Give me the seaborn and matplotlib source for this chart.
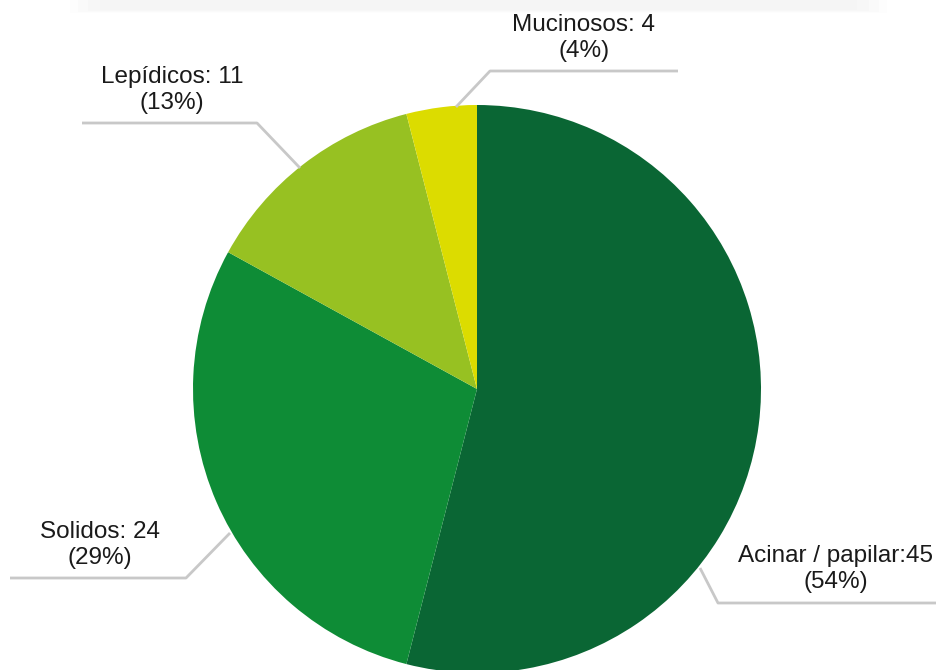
import numpy as np
import matplotlib
matplotlib.use("Agg")
import matplotlib.pyplot as plt
import seaborn as sns
from matplotlib.patches import Rectangle

# ---- data ----
categories = ["Acinar / papilar", "Solidos", "Lepídicos", "Mucinosos"]
counts = [45, 24, 11, 4]
percents = [54, 29, 13, 4]
label_texts = ["Acinar / papilar:45\n(54%)", "Solidos: 24\n(29%)",
               "Lepídicos: 11\n(13%)", "Mucinosos: 4\n(4%)"]
colors = ["#0a6634", "#0e8c36", "#97c122", "#dcdc00"]

sns.set_theme(style="white")
plt.rcParams["font.family"] = ["Liberation Sans", "DejaVu Sans"]

W, H = 937, 670
fig = plt.figure(figsize=(W / 100, H / 100), dpi=100)
ax = fig.add_axes([0, 0, 1, 1])

cx, cy, R = 477, H - 389, 284
ax.pie(percents, colors=colors, startangle=90, counterclock=False,
       center=(cx, cy), radius=R, frame=True,
       wedgeprops=dict(linewidth=0))
ax.set_xlim(0, W)
ax.set_ylim(0, H)
ax.set_aspect("equal")
ax.axis("off")

# leader-line / label layout in pixel positions (y from top)
layout = {
    "Acinar / papilar": dict(anchor=(700, 568), elbow=(718, 603), end=937, text=(836, 569)),
    "Solidos": dict(anchor=(230, 533), elbow=(186, 578), end=10, text=(100, 545)),
    "Lepídicos": dict(anchor=(300, 168), elbow=(257, 123), end=82, text=(172, 90)),
    "Mucinosos": dict(anchor=(456, 107), elbow=(490, 71), end=678, text=(584, 38)),
}
for cat, txt in zip(categories, label_texts):
    L = layout[cat]
    xs = [L["anchor"][0], L["elbow"][0], L["end"]]
    ys = [H - L["anchor"][1], H - L["elbow"][1], H - L["elbow"][1]]
    ax.plot(xs, ys, color="#c8c8c8", lw=2, solid_capstyle="butt", zorder=1)
    ax.text(L["text"][0], H - L["text"][1], txt, ha="center", va="center",
            fontsize=17.5, color="#1a1a1a", linespacing=1.2)

# very faint, soft-edged top band
band = [(70, 887, 13, "#fdfdfd"), (78, 879, 12, "#fafafa"),
        (88, 869, 11, "#f7f7f7"), (100, 857, 10, "#f5f5f5")]
for x0, x1, h, c in band:
    fig.patches.append(Rectangle((x0 / W, (H - h) / H), (x1 - x0) / W, h / H,
                                 transform=fig.transFigure, color=c,
                                 lw=0, zorder=0))

fig.savefig("out.png", dpi=100, facecolor="white")
